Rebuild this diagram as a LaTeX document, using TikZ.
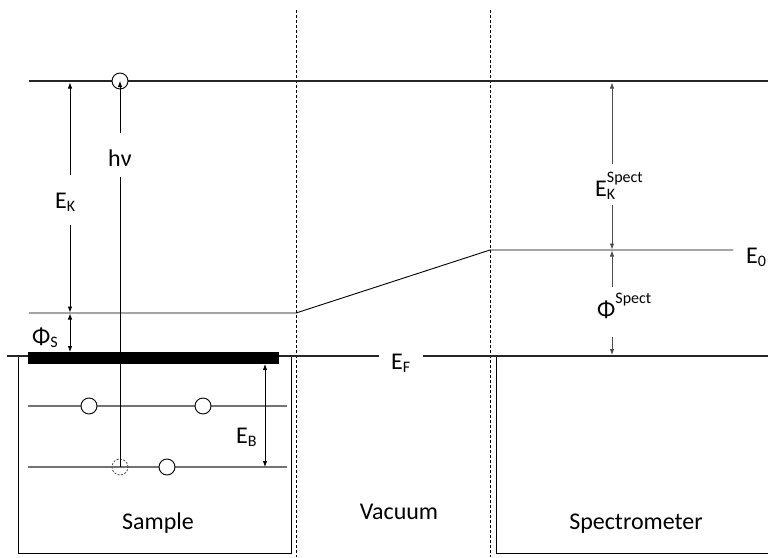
\documentclass[tikz,border=0pt]{standalone}
\usepackage{fontspec}
\setmainfont{Carlito}
\usetikzlibrary{arrows.meta}
\newcommand\lowsub[1]{\raisebox{-0.16em}{\fontsize{16}{18}\selectfont #1}}
\newcommand\highsup[1]{\raisebox{0.55em}{\fontsize{16}{18}\selectfont #1}}
\begin{document}
\begin{tikzpicture}[x=1pt,y=-1pt,
  lbl/.style={font=\fontsize{24}{28}\selectfont, inner sep=0pt, anchor=base west},
  word/.style={font=\fontsize{24}{28}\selectfont, inner sep=0pt, anchor=base},
  heavy/.style={line width=2pt, draw=black!85},
  thinline/.style={line width=0.9pt, draw=black},
  levelline/.style={line width=1.4pt, draw=black!55},
  guide/.style={line width=0.8pt, dash pattern=on 3pt off 2pt, draw=black},
  tip/.tip={Latex[length=6pt,width=4.5pt]},
  dim/.style={line width=0.8pt, draw=black},
  electron/.style={circle, draw=black, fill=white, line width=0.9pt, minimum size=16pt, inner sep=0pt},
  hole/.style={circle, draw=black!70, dash pattern=on 2pt off 1.5pt, line width=0.8pt, minimum size=16pt, inner sep=0pt}
]
\useasboundingbox (0,0) rectangle (768,557);
% coordinates
\coordinate (topL) at (29,81);
\coordinate (topR) at (768,81);
\coordinate (vacL) at (29,313);
\coordinate (vacM) at (296,313);
\coordinate (vacS) at (490,250);
\coordinate (vacR) at (733,250);
\coordinate (efL) at (7,356);
\coordinate (efA) at (379,356);
\coordinate (efB) at (423,356);
\coordinate (efR) at (768,356);
% dashed interfaces
\draw[guide] (296,10) coordinate (g1t) -- (296,557) coordinate (g1b);
\draw[guide] (490,10) coordinate (g2t) -- (490,557) coordinate (g2b);
% boxes
\draw[thinline] (18,356) coordinate (sbA) -- (18,553) -- (291,553) -- (291,356) coordinate (sbB);
\draw[thinline] (496,356) coordinate (spA) -- (496,553) -- (768,553) coordinate (spB);
% levels
\draw[heavy] (topL) -- (topR);
\draw[thinline] (vacL) -- (vacM) -- (vacS) -- (vacR);
\draw[heavy] (efL) -- (efA);
\draw[heavy] (efB) -- (efR);
\fill[black] (28,352) rectangle (279,364);
\draw[levelline] (28,406) coordinate (l1a) -- (287,406) coordinate (l1b);
\draw[levelline] (28,467) coordinate (l2a) -- (287,467) coordinate (l2b);
% electrons
\node[electron] (etop) at (120,81) {};
\node[electron] (e1) at (89,406) {};
\node[electron] (e2) at (203,406) {};
\node[electron] (e3) at (167,467) {};
\node[hole] (h) at (120,467) {};
% labels
\node[lbl] (hv) at (108,166) {hν};
\node[lbl] (ek) at (55,208) {E\lowsub{K}};
\node[lbl] (phis) at (32,344) {Φ\lowsub{S}};
\node[lbl] (ef) at (391,369) {E\lowsub{F}};
\node[lbl] (eb) at (236,443) {E\lowsub{B}};
\node[lbl] (eks) at (595,196) {E\rlap{\highsup{Spect}}\lowsub{K}};
\node[lbl] (phisp) at (597,317) {Φ\highsup{Spect}};
\node[lbl] (e0) at (746,263) {E\lowsub{0}};
\node[word] (sample) at (158,529) {Sample};
\node[word] (vacuum) at (399,519) {Vacuum};
\node[word] (spectro) at (636,529) {Spectrometer};
% photon / excitation arrow
\draw[dim] (h.center) -- (120,177) coordinate (hvlow);
\draw[dim,-tip] (120,133) coordinate (hvup) -- (etop.center);
% E_K
\draw[dim,-tip] (70,175) coordinate (eka) -- (70,82.5);
\draw[dim,-tip] (70,225) coordinate (ekb) -- (70,312.5);
% Phi_S
\draw[dim,tip-tip] (70,313.5) -- (70,352);
% E_B
\draw[dim,tip-tip] (265,364) -- (265,467);
% E_K spect
\draw[dim,draw=black!70,-tip] (612,164) coordinate (eksa) -- (612,82.5);
\draw[dim,draw=black!70,-tip] (612,205) coordinate (eksb) -- (612,249.5);
% Phi spect
\draw[dim,draw=black!70,-tip] (612,287) coordinate (psa) -- (612,250.5);
\draw[dim,draw=black!70,-tip] (612,337) coordinate (psb) -- (612,355);
\end{tikzpicture}
\end{document}
